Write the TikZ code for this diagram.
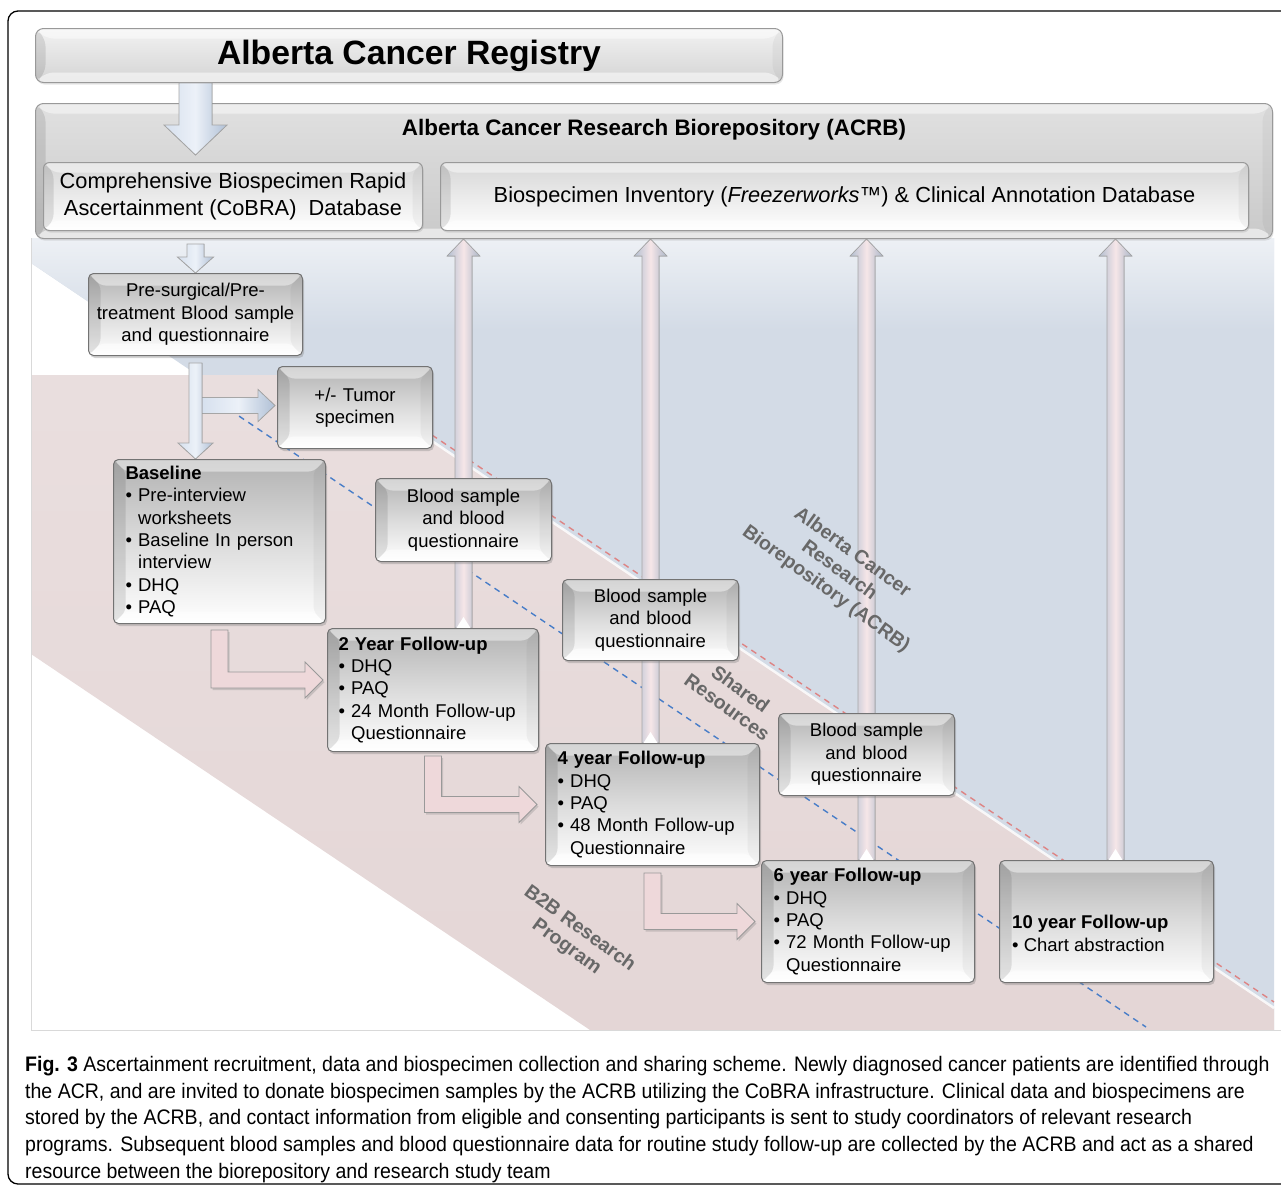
\documentclass[tikz,border=0pt]{standalone}
\usepackage{fontspec}
\setmainfont{Liberation Sans}
\newfontfamily\capfont[FakeStretch=0.93]{Liberation Sans}
\usetikzlibrary{calc,shadows}

\definecolor{bluebg}{RGB}{211,219,230}
\definecolor{pinkbg}{RGB}{228,214,214}
\definecolor{reddash}{RGB}{222,132,132}
\definecolor{bluedash}{RGB}{72,125,200}
\definecolor{lblgray}{RGB}{104,104,104}
\definecolor{arrpink}{RGB}{238,216,218}
\definecolor{arrbl}{RGB}{214,224,238}
\definecolor{arrbr}{RGB}{176,192,214}
\definecolor{arrbm}{RGB}{236,241,248}
\definecolor{uparl}{RGB}{178,190,208}
\definecolor{uparr}{RGB}{170,182,200}
\definecolor{uparm}{RGB}{246,230,232}

\pgfdeclarelayer{bg}
\pgfdeclarelayer{arr}
\pgfsetlayers{bg,arr,main}

\newcommand{\boxfont}{\fontsize{18.5}{22.3}\selectfont}
\newcommand{\dbfont}{\fontsize{21.8}{27}\selectfont}
\newcommand{\bpt}{\textbullet\ }
\newcommand{\bind}{\phantom{\textbullet\ }}

% block arrows: [style]{start}{tip}{half shaft}{half head}{head length}
\newcommand{\blkv}[6][bluearr]{%
  \filldraw[#1] let \p1=#2, \p2=#3 in
    (\x2-#4,\y1) -- (\x2+#4,\y1) -- (\x2+#4,\y2+#6) -- (\x2+#5,\y2+#6)
    -- (\x2,\y2) -- (\x2-#5,\y2+#6) -- (\x2-#4,\y2+#6) -- cycle;}
\newcommand{\blkh}[6][bluearr]{%
  \filldraw[#1] let \p1=#2, \p2=#3 in
    (\x1,\y2+#4) -- (\x2-#6,\y2+#4) -- (\x2-#6,\y2+#5) -- (\x2,\y2)
    -- (\x2-#6,\y2-#5) -- (\x2-#6,\y2-#4) -- (\x1,\y2-#4) -- cycle;}
% thin arrow up into the database
\newcommand{\blkup}[2]{%
  \filldraw[upstyle] let \p1=#1, \p2=#2 in
    (\x1-8.5,\y1) -- (\x1-8.5,\y2-17) -- (\x1-16.5,\y2-17) -- (\x1,\y2)
    -- (\x1+16.5,\y2-17) -- (\x1+8.5,\y2-17) -- (\x1+8.5,\y1) -- cycle;
  \fill[white] let \p1=#1 in (\x1-7,\y1) -- (\x1,\y1+11) -- (\x1+7,\y1) -- cycle;}
% elbow arrow between follow-ups
\newcommand{\blkel}[2]{%
  \filldraw[pinkarr] let \p1=#1, \p2=#2 in
    (\x1-8.5,\y1) -- (\x1+8.5,\y1) -- (\x1+8.5,\y2+8) -- (\x2-18,\y2+8)
    -- (\x2-18,\y2+18) -- (\x2,\y2) -- (\x2-18,\y2-18) -- (\x2-18,\y2-8)
    -- (\x1-8.5,\y2-8) -- cycle;}

\begin{document}
\begin{tikzpicture}[x=1pt,y=-1pt,
    bevelfx/.style={path picture={
      \fill[white,opacity=.45] (path picture bounding box.north west) -- ++(#1,#1)
        -- ($(path picture bounding box.north east)+(-#1,#1)$) -- (path picture bounding box.north east) -- cycle;
      \fill[black,opacity=.10] (path picture bounding box.north west) -- ++(#1,#1)
        -- ($(path picture bounding box.south west)+(#1,-#1)$) -- (path picture bounding box.south west) -- cycle;
      \fill[white,opacity=.55] (path picture bounding box.south west) -- ++(#1,-#1)
        -- ($(path picture bounding box.south east)+(-#1,-#1)$) -- (path picture bounding box.south east) -- cycle;
      \fill[black,opacity=.04] (path picture bounding box.north east) -- ++(-#1,#1)
        -- ($(path picture bounding box.south east)+(-#1,-#1)$) -- (path picture bounding box.south east) -- cycle;}},
    bevelfx/.default=12,
    bevel/.style={draw=black!55, line width=1, rounded corners=5,
      top color=black!30, bottom color=white, middle color=black!14,
      drop shadow={opacity=.35,shadow xshift=1.5pt,shadow yshift=-2.5pt},
      inner sep=0pt, font=\boxfont, anchor=north west, bevelfx},
    panel/.style={draw=black!40, line width=1, rounded corners=8, inner sep=0pt,
      anchor=north west, bevelfx=10,
      drop shadow={opacity=.2,shadow xshift=1pt,shadow yshift=-2pt}},
    bluearr/.style={draw=black!35, line width=.8, left color=arrbl,
      right color=arrbr, middle color=arrbm},
    upstyle/.style={draw=black!35, line width=.6, left color=uparl,
      right color=uparr, middle color=uparm},
    pinkarr/.style={draw=black!40, line width=.8, fill=arrpink,
      drop shadow={opacity=.3,shadow xshift=1.5pt,shadow yshift=-2pt}},
    diag/.style={text=lblgray, font=\bfseries\fontsize{19.5}{22.5}\selectfont,
      rotate=-36, align=center},
    dashline/.style={line width=1.4, dash pattern=on 6pt off 5pt}
  ]
  \useasboundingbox (0,0) rectangle (1281,1187);

  % backdrop
  \begin{pgfonlayer}{bg}
    \draw[line width=1.3, rounded corners=10] (8,11) rectangle (1300,1184);
    \fill[bluebg] (31,238) -- (1274,238) -- (1274,1030) -- (1171,1030) -- (31,263) -- cycle;
    \begin{scope}
      \clip (31,238) -- (1274,238) -- (1274,330) -- (130,330) -- (31,263) -- cycle;
      \shade[top color=white!60!bluebg, bottom color=bluebg] (31,238) rectangle (1274,330);
    \end{scope}
    \shade[top color=pinkbg!80!white, bottom color=pinkbg]
      (31,375) -- (334,375) -- (1274,1008) -- (1274,1030) -- (590,1030) -- (31,654) -- cycle;
    \draw[white, line width=2.5, opacity=.8] (334,375) -- (1274,1008);
    \draw[black!15, line width=1] (31,238) -- (31,1030) -- (1281,1030);
    \draw[reddash, dashline] (432,435) -- (1274,1002);
    \draw[bluedash, dashline] (230,410) -- (1146,1027);
  \end{pgfonlayer}

  % registry and biorepository
  \node[panel, top color=black!5, bottom color=black!17, minimum width=747, minimum height=54,
    font=\bfseries\fontsize{33.7}{40}\selectfont] (acr) at (35,28) {Alberta Cancer Registry};
  \node[panel, top color=black!12, bottom color=black!21, minimum width=1237, minimum height=135]
    (acrb) at (35,103) {};
  \node[font=\bfseries\fontsize{22.4}{27}\selectfont] (acrbt) at ($(acrb.north)+(0,27)$)
    {Alberta Cancer Research Biorepository (ACRB)};
  \node[panel, rounded corners=6, top color=black!16, bottom color=white, minimum width=379,
    minimum height=68, font=\dbfont, align=center] (cobra) at (43,162)
    {Comprehensive Biospecimen Rapid\\Ascertainment (CoBRA)\ \ Database};
  \node[panel, rounded corners=6, top color=black!16, bottom color=white, minimum width=808,
    minimum height=68, font=\dbfont] (inv) at (440,162)
    {Biospecimen Inventory (\textit{Freezerworks}™) \& Clinical Annotation Database};

  % collection steps
  \node[bevel, minimum width=214, minimum height=82, text width=200, align=center] (pre) at (88,273)
    {Pre-surgical/Pre-\\treatment Blood sample\\and questionnaire};
  \node[bevel, minimum width=155, minimum height=82, text width=140, align=center] (tumor) at (277,366)
    {+/- Tumor\\specimen};
  \node[bevel, minimum width=212, minimum height=164, text width=188, align=left] (base) at (113,459)
    {\textbf{Baseline}\\\bpt Pre-interview\\\bind worksheets\\\bpt Baseline In person\\\bind interview\\\bpt DHQ\\\bpt PAQ};
  \node[bevel, minimum width=176, minimum height=83, text width=160, align=center] (blood1) at (375,478)
    {Blood sample\\and blood\\questionnaire};
  \node[bevel, minimum width=211, minimum height=123, text width=189, align=left] (yr2) at (327,628)
    {\textbf{2 Year Follow-up}\\\bpt DHQ\\\bpt PAQ\\\bpt 24 Month Follow-up\\\bind Questionnaire};
  \node[bevel, minimum width=176, minimum height=81, text width=160, align=center] (blood2) at (562,579)
    {Blood sample\\and blood\\questionnaire};
  \node[bevel, minimum width=214, minimum height=122, text width=190, align=left] (yr4) at (545,743)
    {\textbf{4 year Follow-up}\\\bpt DHQ\\\bpt PAQ\\\bpt 48 Month Follow-up\\\bind Questionnaire};
  \node[bevel, minimum width=176, minimum height=82, text width=160, align=center] (blood3) at (778,713)
    {Blood sample\\and blood\\questionnaire};
  \node[bevel, minimum width=213, minimum height=122, text width=189, align=left] (yr6) at (761,860)
    {\textbf{6 year Follow-up}\\\bpt DHQ\\\bpt PAQ\\\bpt 72 Month Follow-up\\\bind Questionnaire};
  \node[bevel, minimum width=214, minimum height=122] (yr10) at (999,860) {};
  \node[anchor=west, inner sep=0pt, font=\boxfont, align=left] (yr10t) at ($(yr10.west)+(13,12)$)
    {\textbf{10 year Follow-up}\\\bpt Chart abstraction};
  \coordinate (yr10a) at ($(yr10.north)+(9,0)$);

  % registry feeds the biorepository
  \blkv{(pre.north |- acr.south)}{($(pre.north |- cobra.north)+(0,-7)$)}{16.5}{31.5}{30}

  % diagonal labels
  \node[diag] (lacrb) at (839,571) {Alberta Cancer\\Research\\Biorepository (ACRB)};
  \node[diag] (lshared) at (734,698) {Shared\\Resources};
  \node[diag] (lb2b) at (573,938) {B2B Research\\Program};

  % arrows
  \begin{pgfonlayer}{arr}
    \blkv{($(pre.north |- acrb.south)+(0,5)$)}{(pre.north)}{8.5}{18}{16}
    \blkh{($(pre.south |- tumor.west)+(6,-2)$)}{($(tumor.west)+(-2,-2)$)}{8}{16}{17}
    \blkv{($(pre.south)+(0,7)$)}{(pre.south |- base.north)}{6.5}{17.5}{16}
    \blkel{($(base.south)+(0,6)$)}{($(yr2.west)+(-4,-10)$)}
    \blkel{($(yr2.south)+(0,4)$)}{($(yr4.west)+(-8,0)$)}
    \blkel{($(yr4.south)+(0,7)$)}{($(yr6.west)+(-6,0)$)}
    \blkup{(blood1 |- yr2.north)}{(blood1 |- acrb.south)}
    \blkup{(blood2 |- yr4.north)}{(blood2 |- acrb.south)}
    \blkup{(blood3 |- yr6.north)}{(blood3 |- acrb.south)}
    \blkup{(yr10a)}{(yr10a |- acrb.south)}
  \end{pgfonlayer}

  % caption
  \node[anchor=north west, inner sep=0pt, align=left, font=\capfont\fontsize{21}{26.7}\selectfont]
    (cap) at (25,1056)
    {\textbf{Fig. 3} Ascertainment recruitment, data and biospecimen collection and sharing scheme. Newly diagnosed cancer patients are identified through\\
     the ACR, and are invited to donate biospecimen samples by the ACRB utilizing the CoBRA infrastructure. Clinical data and biospecimens are\\
     stored by the ACRB, and contact information from eligible and consenting participants is sent to study coordinators of relevant research\\
     programs. Subsequent blood samples and blood questionnaire data for routine study follow-up are collected by the ACRB and act as a shared\\
     resource between the biorepository and research study team};
\end{tikzpicture}
\end{document}
